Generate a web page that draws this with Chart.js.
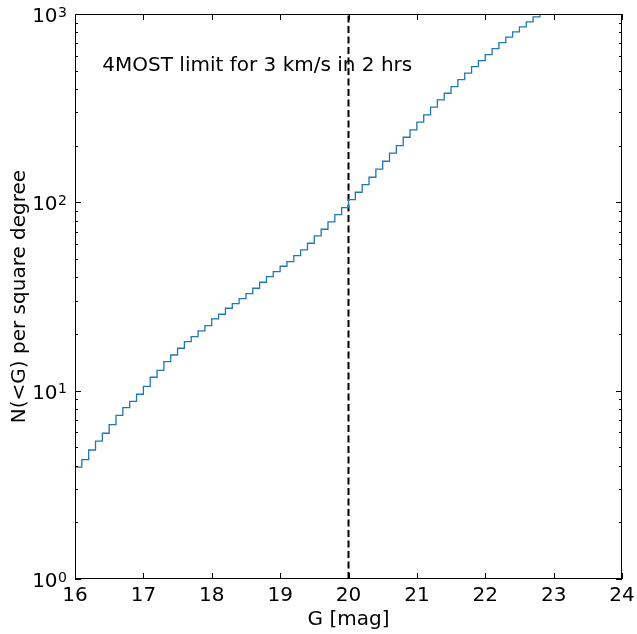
<!DOCTYPE html>
<html>
<head>
<meta charset="utf-8">
<script src="https://cdn.jsdelivr.net/npm/chart.js@4.4.0/dist/chart.umd.min.js"></script>
<style>
  html, body { margin: 0; padding: 0; background: #fff; }
  canvas { display: block; }
</style>
</head>
<body>
<canvas id="chart" width="637" height="634"></canvas>
<script>
// bin edges in G (mag), 0.1 mag bins
const gEdges = [
  16.0, 16.1, 16.2, 16.3, 16.4, 16.5, 16.6, 16.7, 16.8, 16.9,
  17.0, 17.1, 17.2, 17.3, 17.4, 17.5, 17.6, 17.7, 17.8, 17.9,
  18.0, 18.1, 18.2, 18.3, 18.4, 18.5, 18.6, 18.7, 18.8, 18.9,
  19.0, 19.1, 19.2, 19.3, 19.4, 19.5, 19.6, 19.7, 19.8, 19.9,
  20.0, 20.1, 20.2, 20.3, 20.4, 20.5, 20.6, 20.7, 20.8, 20.9,
  21.0, 21.1, 21.2, 21.3, 21.4, 21.5, 21.6, 21.7, 21.8, 21.9,
  22.0, 22.1, 22.2, 22.3, 22.4, 22.5, 22.6, 22.7, 22.8, 22.9,
  23.0
];

// cumulative counts per square degree in each bin
const counts = [
  3.60, 3.93, 4.30, 4.84, 5.39, 5.94, 6.60, 7.40, 8.12, 8.78,
  9.57, 10.55, 11.78, 12.83, 14.26, 15.47, 16.80, 18.20, 19.36, 20.75,
  22.14, 24.03, 25.45, 27.39, 28.97, 30.80, 32.74, 34.98, 37.64, 40.31,
  42.85, 45.77, 48.43, 52.12, 55.87, 60.64, 66.32, 71.95, 78.69, 86.05,
  93.7, 103.3, 113.1, 124.2, 135.9, 149.9, 165.3, 182.3, 200.1, 221.6,
  242.3, 266.4, 291.2, 320.1, 349.9, 379.6, 411.7, 448.4, 484.9, 525.6,
  565.6, 608.7, 655.1, 704.9, 753.2, 803.5, 854.1, 907.8, 965.1, 1000
];

const xTicks = [16, 17, 18, 19, 20, 21, 22, 23, 24];
const yPowers = [0, 1, 2, 3];
const limitMag = 20;
const noteText = '4MOST limit for 3 km/s in 2 hrs';
const noteG = 16.4;
const noteN = 500;

const FONT = '"DejaVu Sans", sans-serif';

const stepPoints = counts.map((c, i) => ({ x: gEdges[i], y: c }));
stepPoints.push({ x: gEdges[gEdges.length - 1], y: counts[counts.length - 1] });

const framePlugin = {
  id: 'frame',
  afterDraw(chart) {
    const { ctx, chartArea: a, scales: { x, y } } = chart;
    ctx.save();
    ctx.strokeStyle = '#000';
    ctx.lineWidth = 1;
    ctx.strokeRect(Math.round(a.left) + 0.5, Math.round(a.top) + 0.5,
      Math.round(a.right - a.left) - 1, Math.round(a.bottom - a.top) - 1);

    const seg = (x1, y1, x2, y2) => {
      ctx.beginPath(); ctx.moveTo(x1, y1); ctx.lineTo(x2, y2); ctx.stroke();
    };
    // x ticks, inward, top and bottom
    xTicks.forEach(v => {
      const px = Math.round(x.getPixelForValue(v)) + 0.5;
      seg(px, a.bottom, px, a.bottom - 6);
      seg(px, a.top, px, a.top + 6);
    });
    // y major + minor ticks, inward, left and right
    yPowers.forEach(p => {
      const base = Math.pow(10, p);
      const py = Math.round(y.getPixelForValue(base)) + 0.5;
      seg(a.left, py, a.left + 6, py);
      seg(a.right, py, a.right - 6, py);
      if (p < yPowers[yPowers.length - 1]) {
        for (let m = 2; m <= 9; m++) {
          const my = Math.round(y.getPixelForValue(m * base)) + 0.5;
          seg(a.left, my, a.left + 3, my);
          seg(a.right, my, a.right - 3, my);
        }
      }
    });

    // y tick labels 10^n
    ctx.fillStyle = '#000';
    ctx.textBaseline = 'alphabetic';
    yPowers.forEach(p => {
      const py = y.getPixelForValue(Math.pow(10, p));
      ctx.font = '14px ' + FONT;
      const exp = String(p);
      const w2 = ctx.measureText(exp).width;
      const xEnd = a.left - 8;
      ctx.textAlign = 'left';
      ctx.fillText(exp, xEnd - w2, py + 2.5);
      ctx.font = '20px ' + FONT;
      ctx.textAlign = 'right';
      ctx.fillText('10', xEnd - w2 - 0.5, py + 8);
    });

    // axis titles
    ctx.font = '20px ' + FONT;
    ctx.textAlign = 'center';
    ctx.textBaseline = 'alphabetic';
    ctx.fillText('G [mag]', (a.left + a.right) / 2, 625);
    ctx.save();
    ctx.translate(25, (a.top + a.bottom) / 2);
    ctx.rotate(-Math.PI / 2);
    ctx.fillText('N(<G) per square degree', 0, 0);
    ctx.restore();

    // annotation
    ctx.textAlign = 'left';
    ctx.fillText(noteText, x.getPixelForValue(noteG), y.getPixelForValue(noteN));
    ctx.restore();
  }
};

new Chart(document.getElementById('chart'), {
  type: 'line',
  data: {
    datasets: [
      {
        data: stepPoints,
        stepped: 'after',
        borderColor: '#1f77b4',
        borderWidth: 1.3,
        pointRadius: 0,
        fill: false
      },
      {
        data: [{ x: limitMag, y: 1 }, { x: limitMag, y: 1000 }],
        borderColor: '#000',
        borderWidth: 2,
        borderDash: [7, 3.5],
        pointRadius: 0,
        fill: false
      }
    ]
  },
  options: {
    responsive: false,
    animation: false,
    layout: { padding: { top: 14, right: 15, left: 0, bottom: 0 } },
    plugins: { legend: { display: false }, tooltip: { enabled: false } },
    scales: {
      x: {
        type: 'linear',
        min: 16,
        max: 24,
        afterBuildTicks: s => { s.ticks = xTicks.map(v => ({ value: v })); },
        afterFit: s => { s.height = 55; s.paddingLeft = 0; s.paddingRight = 0; },
        grid: { display: false, drawTicks: false },
        border: { display: false },
        ticks: {
          color: '#000',
          font: { family: FONT, size: 20 },
          padding: 5,
          maxRotation: 0,
          autoSkip: false
        }
      },
      y: {
        type: 'logarithmic',
        min: 1,
        max: 1000,
        afterFit: s => { s.width = 75; s.paddingTop = 0; s.paddingBottom = 0; },
        grid: { display: false, drawTicks: false },
        border: { display: false },
        ticks: { display: false }
      }
    }
  },
  plugins: [framePlugin]
});
</script>
</body>
</html>
